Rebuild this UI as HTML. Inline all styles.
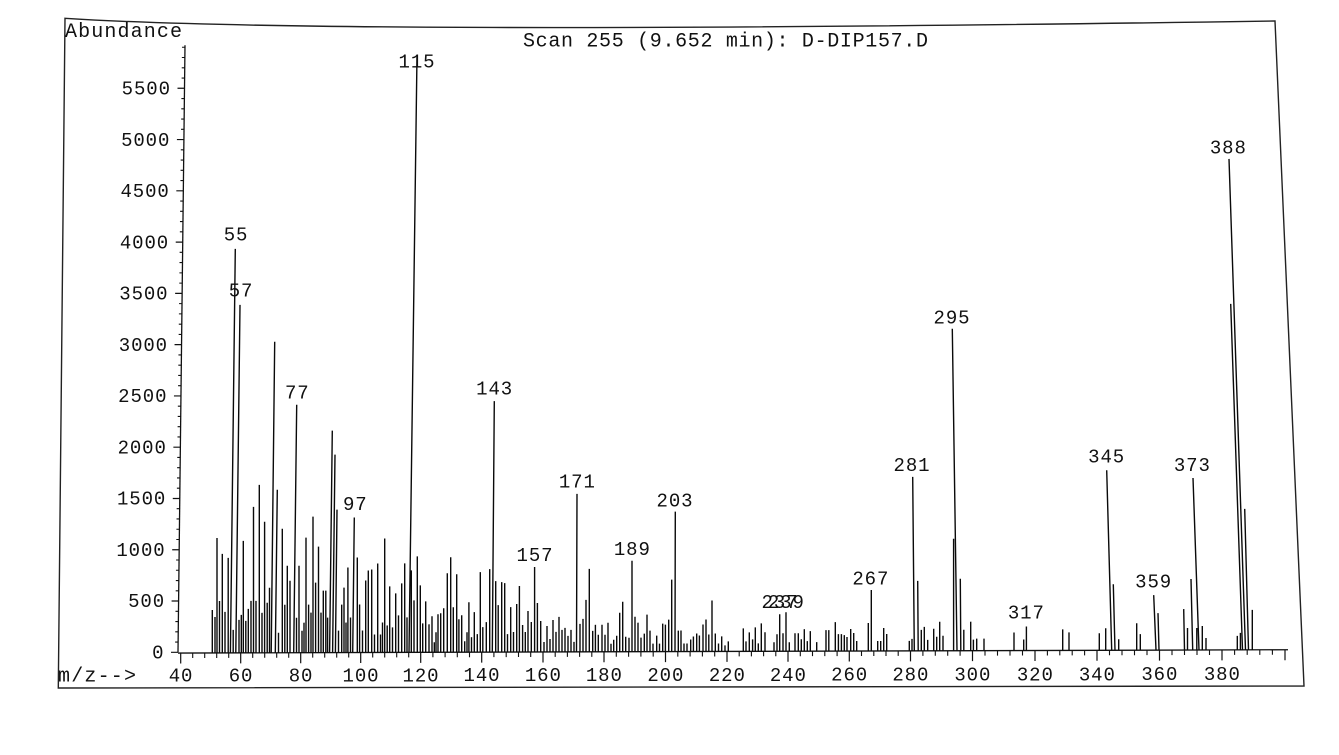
<!DOCTYPE html>
<html>
<head>
<meta charset="utf-8">
<style>
html,body{margin:0;padding:0;background:#fff;}
svg{display:block;}
text{font-family:"Liberation Mono","DejaVu Sans Mono",monospace;fill:#111;}
.n{font-size:19px;letter-spacing:0.9px;}
.t{font-size:20px;}
</style>
</head>
<body>
<svg width="1339" height="755" viewBox="0 0 1339 755" xmlns="http://www.w3.org/2000/svg">
<rect width="1339" height="755" fill="#fff"/>
<!-- frame -->
<path d="M65 18.3Q330 35.3 1275 21L1304 686L58.3 688Z" fill="none" stroke="#222" stroke-width="1.4"/>

<!-- y axis + ticks -->
<g transform="matrix(1 0 0.1182 -10.255 178 652.3)" fill="none" stroke="#111">
<path vector-effect="non-scaling-stroke" stroke-width="1.3" d="M0 0V59.2"/>
<path vector-effect="non-scaling-stroke" stroke-width="1.2" d="M-7 0h7M-7 5h7M-7 10h7M-7 15h7M-7 20h7M-7 25h7M-7 30h7M-7 35h7M-7 40h7M-7 45h7M-7 50h7M-7 55h7"/>
<path vector-effect="non-scaling-stroke" stroke-width="1.1" d="M-3 1h3M-3 2h3M-3 3h3M-3 4h3M-3 6h3M-3 7h3M-3 8h3M-3 9h3M-3 11h3M-3 12h3M-3 13h3M-3 14h3M-3 16h3M-3 17h3M-3 18h3M-3 19h3M-3 21h3M-3 22h3M-3 23h3M-3 24h3M-3 26h3M-3 27h3M-3 28h3M-3 29h3M-3 31h3M-3 32h3M-3 33h3M-3 34h3M-3 36h3M-3 37h3M-3 38h3M-3 39h3M-3 41h3M-3 42h3M-3 43h3M-3 44h3M-3 46h3M-3 47h3M-3 48h3M-3 49h3M-3 51h3M-3 52h3M-3 53h3M-3 54h3M-3 56h3M-3 57h3M-3 58h3M-3 59h3"/>
</g>

<!-- x axis, ticks, bars (sheared baseline) -->
<g transform="matrix(1 -0.003 0 1 0 1.2)" fill="none" stroke="#111">
<path stroke-width="1.3" d="M178 652.4H1288"/>
<path stroke-width="1.2" d="M180.7 652.4v10.5M240.7 652.4v10.5M300.7 652.4v10.5M360.7 652.4v10.5M420.7 652.4v10.5M481.7 652.4v10.5M543 652.4v10.5M604 652.4v10.5M665.5 652.4v10.5M727 652.4v10.5M788 652.4v10.5M849.3 652.4v10.5M910.5 652.4v10.5M972.5 652.4v10.5M1035 652.4v10.5M1097 652.4v10.5M1159.5 652.4v10.5M1222 652.4v10.5M1285 652.4v10.5"/>
<path stroke-width="1.1" d="M192.7 652.4v5M204.7 652.4v5M216.7 652.4v5M228.7 652.4v5M252.7 652.4v5M264.7 652.4v5M276.7 652.4v5M288.7 652.4v5M312.7 652.4v5M324.7 652.4v5M336.7 652.4v5M348.7 652.4v5M372.7 652.4v5M384.7 652.4v5M396.7 652.4v5M408.7 652.4v5M432.9 652.4v5M445.1 652.4v5M457.3 652.4v5M469.5 652.4v5M493.9 652.4v5M506.2 652.4v5M518.5 652.4v5M530.7 652.4v5M555.2 652.4v5M567.4 652.4v5M579.6 652.4v5M591.8 652.4v5M616.3 652.4v5M628.6 652.4v5M640.9 652.4v5M653.2 652.4v5M677.8 652.4v5M690.1 652.4v5M702.4 652.4v5M714.7 652.4v5M739.2 652.4v5M751.4 652.4v5M763.6 652.4v5M775.8 652.4v5M800.3 652.4v5M812.5 652.4v5M824.8 652.4v5M837.1 652.4v5M861.5 652.4v5M873.8 652.4v5M886 652.4v5M898.2 652.4v5M922.9 652.4v5M935.3 652.4v5M947.7 652.4v5M960.1 652.4v5M985 652.4v5M997.5 652.4v5M1010 652.4v5M1022.5 652.4v5M1047.4 652.4v5M1059.8 652.4v5M1072.2 652.4v5M1084.6 652.4v5M1109.5 652.4v5M1122 652.4v5M1134.5 652.4v5M1147 652.4v5M1172 652.4v5M1184.5 652.4v5M1197 652.4v5M1209.5 652.4v5M1234.6 652.4v5M1247.2 652.4v5M1259.8 652.4v5M1272.4 652.4v5"/>
<g transform="translate(0 652.4)">
<path stroke="#0a0a0a" stroke-width="1.4" d="M212.3 0v-43M215 0v-36M217 0v-115M219.5 0v-52M222.3 0v-99M225 0v-41M228.2 0v-95M230.4 0l4.9-404M233.2 0v-23M235.8 0l4.2-348M239 0v-33M241.3 0v-38M243.3 0v-112M245.8 0v-32M248.3 0v-44M251 0v-52M253.5 0v-146M256 0v-52M259.3 0v-168M262 0v-40M264.6 0v-131M267.2 0v-50M269.5 0v-65M271.2 0l3.5-311M275.3 0l2-163M278.5 0v-20M282.3 0v-124M284.8 0v-48M287.3 0v-87M290 0v-72M293.7 0l3-248M296.5 0v-35M299 0v-87M302 0v-22M304 0v-30M306 0v-115M308.6 0v-48M311 0v-40M313 0v-136M315.6 0v-70M318.5 0v-106M321 0v-40M323.3 0v-62M325.8 0v-62M327.6 0v-35M329.6 0l2.7-222M332.6 0l2.4-198M335.4 0l1.6-143M338.5 0v-22M341.7 0v-48M344 0v-65M346 0v-30M347.9 0v-85M350.5 0v-35M352.7 0l1.6-135M357.3 0v-95M359.6 0v-48M362.5 0v-22M365.7 0v-72M368.3 0v-82M371.7 0v-83M374.5 0v-18M377.7 0v-89M380.5 0v-18M382.5 0v-30M384.7 0v-114M387.2 0v-27M389.7 0v-66M392.5 0v-25M395.7 0v-59M398.5 0v-37M401.7 0v-69M404.7 0v-89M407 0v-35M409 0l8-597M411.3 0v-82M414 0v-52M417.3 0v-96M420.3 0v-67M422.7 0v-29M425.7 0v-51M429 0v-28M432 0v-36M434.3 0v-10M436 0v-20M438 0v-38M440.7 0v-39M443.7 0v-44M447.3 0v-79M450.7 0v-95M453.3 0v-45M456.7 0v-78M458.9 0v-33M461.7 0v-37M464.7 0v-11M467 0v-20M468.9 0v-50M471.5 0v-15M474.3 0v-40M477.3 0v-18M480.3 0v-80M482.8 0v-25M486.3 0v-30M489.7 0v-83M492.3 0l2-251M495.7 0v-71M498.2 0v-47M501.7 0v-70M504.7 0v-69M507.5 0v-18M510.7 0v-45M513.5 0v-20M516.7 0v-48M519.4 0v-66M522.6 0v-27M525.3 0v-20M528 0v-41M531.3 0v-30M534.6 0v-85M537.4 0v-49M540.7 0v-31M544 0v-10M547 0v-26M550 0v-13M553 0v-32M556 0v-20M559 0v-35M562 0v-22M565 0v-24M568 0v-16M571 0v-22M574 0v-10M576.5 0l0.5-158M580 0v-28M583 0v-33M586 0v-52M589.3 0v-83M592.7 0v-21M595.4 0v-27M598.3 0v-17M602 0v-27M605 0v-17M608 0v-29M611 0v-8M613.7 0v-12M616.7 0v-16M619.7 0v-39M622.7 0v-50M625.7 0v-15M629 0v-14M632 0v-91M635 0v-35M638 0v-29M641 0v-14M644.3 0v-18M647 0v-37M650 0v-21M653 0v-8M656.7 0v-16M659.5 0v-8M662.7 0v-28M665.4 0v-27M668.7 0v-32M671.7 0v-72M675 0l0.3-140M678.3 0v-21M681 0v-21M684 0v-8M687 0v-8M690.7 0v-12M693.4 0v-15M696.7 0v-18M699.4 0v-16M703 0v-27M706 0v-32M708.8 0v-17M712 0v-51M715.3 0v-18M718.5 0v-8M721.7 0v-15M725 0v-6M728.3 0v-10M743.3 0v-23M746 0v-10M749.3 0v-19M752.6 0v-12M755.3 0v-24M758.3 0v-8M761.3 0v-28M765 0v-19M774 0v-9M777 0v-17M779.7 0v-37M783 0v-18M786 0v-39M789.3 0v-9M795 0v-18M798.3 0v-18M801.3 0v-12M804.3 0v-22M807.3 0v-10M810.3 0v-20M816.7 0v-9M826 0v-21M828.8 0v-21M835.3 0v-29M838.4 0v-17M841.4 0v-17M844.3 0v-16M847 0v-14M850.7 0v-22M853.7 0v-18M856.7 0v-10M868.3 0v-28M871.3 0v-61M877.7 0v-10M880.7 0v-10M883.7 0v-23M886.7 0v-17M909.3 0v-10M912 0v-12M914.3 0l-1.6-174M918.2 0l-0.5-70M921.3 0v-21M924.3 0v-24M927.7 0v-11M933.7 0v-22M936.7 0v-14M939.7 0v-29M943 0v-15M953.6 0v-112M957 0l-4.7-322M960.8 0l-0.5-72M963.8 0v-21M970.7 0v-29M973.4 0v-11M976.7 0v-12M984 0v-12M1014 0v-18M1023.7 0v-11M1026.4 0v-24M1062.7 0v-21M1069 0v-18M1099.3 0v-17M1105.7 0v-22M1111.7 0l-5-180M1115 0l-1.7-66M1118.7 0v-11M1136.7 0v-27M1140.3 0v-16M1156 0l-2.3-55M1159 0l-1-37M1184.5 0l-0.8-41M1187.5 0v-22M1192.7 0l-1.7-71M1196.8 0v-22M1199 0l-6-172M1202.3 0v-24M1206 0v-12M1237.3 0v-14M1240.4 0v-17M1242.5 0l-11.8-346M1245.5 0l-16.5-491M1248.5 0l-3.8-141M1252.3 0v-40"/>
</g>
</g>

<!-- header texts -->
<text class="t" x="65" y="37" textLength="117" lengthAdjust="spacing">Abundance</text>
<text class="t" x="523" y="46.7" textLength="405" lengthAdjust="spacing">Scan 255 (9.652 min): D-DIP157.D</text>
<text class="t" x="58" y="681.7" textLength="78" lengthAdjust="spacing">m/z--&gt;</text>

<!-- y labels -->
<g class="n" text-anchor="end">
<text class="n" x="164.4" y="658.5">0</text>
<text class="n" x="165" y="607.2">500</text>
<text class="n" x="165.6" y="556">1000</text>
<text class="n" x="166.2" y="504.7">1500</text>
<text class="n" x="166.8" y="453.4">2000</text>
<text class="n" x="167.4" y="402.1">2500</text>
<text class="n" x="168" y="350.8">3000</text>
<text class="n" x="168.5" y="299.6">3500</text>
<text class="n" x="169.1" y="248.3">4000</text>
<text class="n" x="169.7" y="197">4500</text>
<text class="n" x="170.3" y="145.8">5000</text>
<text class="n" x="170.9" y="94.5">5500</text>
</g>

<!-- x labels -->
<g text-anchor="middle">
<text class="n" x="181" y="681.7">40</text>
<text class="n" x="241" y="681.6">60</text>
<text class="n" x="301" y="681.5">80</text>
<text class="n" x="361" y="681.4">100</text>
<text class="n" x="421" y="681.3">120</text>
<text class="n" x="482" y="681.2">140</text>
<text class="n" x="543.3" y="681.2">160</text>
<text class="n" x="604.3" y="681.1">180</text>
<text class="n" x="665.8" y="681">200</text>
<text class="n" x="727.3" y="680.9">220</text>
<text class="n" x="788.3" y="680.8">240</text>
<text class="n" x="849.6" y="680.7">260</text>
<text class="n" x="910.8" y="680.6">280</text>
<text class="n" x="972.8" y="680.5">300</text>
<text class="n" x="1035.3" y="680.4">320</text>
<text class="n" x="1097.3" y="680.3">340</text>
<text class="n" x="1159.8" y="680.2">360</text>
<text class="n" x="1222.3" y="680.1">380</text>
</g>

<!-- peak labels -->
<g text-anchor="middle">
<text class="n" x="236" y="240.7">55</text>
<text class="n" x="241" y="296.7">57</text>
<text class="n" x="297.3" y="398.5">77</text>
<text class="n" x="355.3" y="510">97</text>
<text class="n" x="417" y="67.3">115</text>
<text class="n" x="494.6" y="394.3">143</text>
<text class="n" x="535" y="561">157</text>
<text class="n" x="577.3" y="487.7">171</text>
<text class="n" x="632.3" y="555">189</text>
<text class="n" x="675" y="506.7">203</text>
<text class="n" x="780" y="608">237</text>
<text class="n" x="786.3" y="608">239</text>
<text class="n" x="870.8" y="584.3">267</text>
<text class="n" x="912" y="471">281</text>
<text class="n" x="952" y="323.3">295</text>
<text class="n" x="1026.3" y="618.3">317</text>
<text class="n" x="1106.6" y="462.7">345</text>
<text class="n" x="1153.6" y="587.7">359</text>
<text class="n" x="1192.3" y="471">373</text>
<text class="n" x="1228.3" y="153.3">388</text>
</g>
</svg>
</body>
</html>
